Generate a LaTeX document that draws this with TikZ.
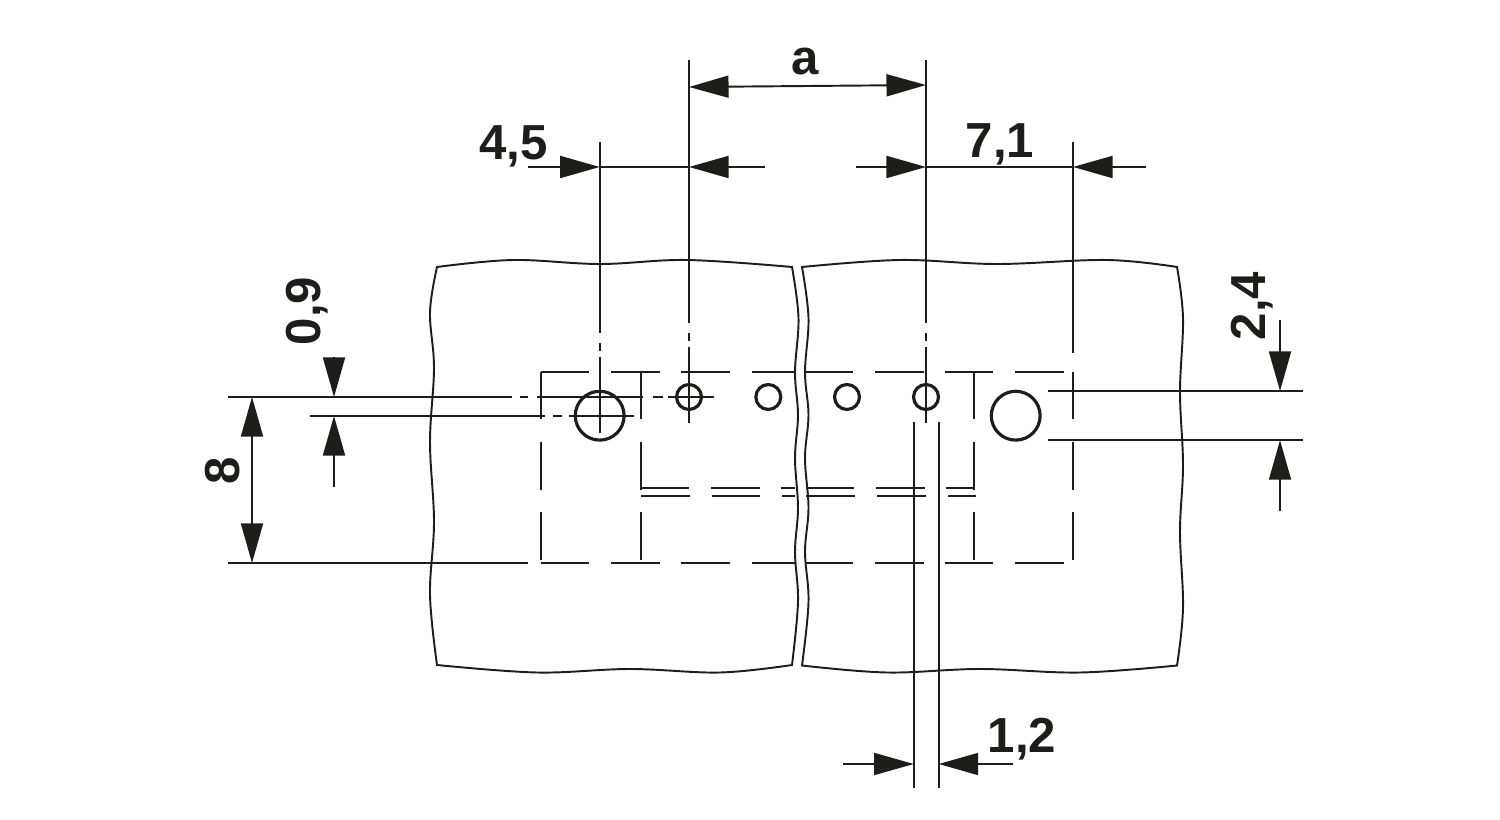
\documentclass[tikz,border=0pt]{standalone}
\usepackage{fontspec}
\setmainfont{Liberation Sans}
\usetikzlibrary{arrows.meta}
\definecolor{ink}{HTML}{1D1D1B}
\tikzset{
    thinline/.style={draw=ink, line width=1.2pt},
    edgeline/.style={draw=ink, line width=1.1pt, line join=miter},
    dimtip/.tip={Triangle[length=22.5pt, width=12.5pt]},
    dimarrow/.style={draw=ink, line width=1.1pt, -dimtip},
    dimlabel/.style={text=ink, font=\fontsize{28}{28}\selectfont\bfseries, inner sep=0pt},
    smallhole/.style={circle, draw=ink, line width=1.8pt, minimum size=14.2pt, inner sep=0pt},
    bighole/.style={circle, draw=ink, line width=1.8pt, minimum size=27.8pt, inner sep=0pt}
}
\begin{document}
\begin{tikzpicture}[x=0.02cm, y=-0.02cm]
            \useasboundingbox (0,0) rectangle (1500,820);

            % left panel
            \draw[edgeline] plot[smooth, tension=0.6] coordinates {(437,267) (513,260) (600,264) (687,260) (792,267)}
              -- plot[smooth, tension=0.6] coordinates {(792,267) (798.5,318) (795,372) (798,415) (795,458) (798,508) (795,552) (798,602) (792,665)}
              -- plot[smooth, tension=0.6] coordinates {(792,665) (720,672.5) (630,669) (537,672.5) (437,665)}
              -- plot[smooth, tension=0.6] coordinates {(437,665) (430,595) (434,522) (430,442) (434,368) (430,312) (437,267)} -- cycle;
            % right panel
            \draw[edgeline] plot[smooth, tension=0.6] coordinates {(802,267) (900,260) (997,264) (1107,260) (1177,267)}
              -- plot[smooth, tension=0.6] coordinates {(1177,267) (1183,318) (1180,392) (1183,465) (1180,532) (1183,608) (1177,665.5)}
              -- plot[smooth, tension=0.6] coordinates {(1177,665.5) (1080,672.5) (980,669) (887,672.5) (802,665.5)}
              -- plot[smooth, tension=0.6] coordinates {(802,665.5) (808.5,602) (805,552) (808.5,508) (805,458) (808.5,415) (805,372) (808.5,318) (802,267)} -- cycle;

            % holes
            \node[bighole] (bigl) at (599.7,415.7) {};
            \node[bighole] (bigr) at (1015.7,415.7) {};
            \node[smallhole] (hole1) at (689,397) {};
            \node[smallhole] (hole2) at (768.3,397) {};
            \node[smallhole] (hole3) at (847,397) {};
            \node[smallhole] (hole4) at (926,397) {};

            % hidden outline, horizontal dashes
            \foreach \ya in {372, 563}
              \foreach \xa/\xb in {541/589, 611/660, 681/730, 752/795, 805/853, 875/924, 945/993, 1015/1064}
                \draw[thinline] (\xa,\ya) -- (\xb,\ya);
            \draw[thinline] (228,563) -- (528,563);
            \foreach \xa/\xb in {641/689, 711/760, 781/795, 806/854, 876/925, 946/974}
                \draw[thinline] (\xa,488.2) -- (\xb,488.2);
            \foreach \xa/\xb in {641/690, 712/760, 782/795, 806/855, 877/926, 948/976}
                \draw[thinline] (\xa,496.2) -- (\xb,496.2);

            % hidden outline, vertical dashes
            \foreach \xa in {541.2, 641.2, 974, 1073}
              \foreach \ya/\yb in {372/419, 442/490, 512/560}
                \draw[thinline] (\xa,\ya) -- (\xa,\yb);

            % centre lines
            \draw[thinline] (228,397) -- (512,397);
            \foreach \xa/\xb in {520/528, 537/643, 653/663, 668/714}
                \draw[thinline] (\xa,397) -- (\xb,397);
            \draw[thinline] (310,416) -- (545,416);
            \foreach \xa/\xb in {553/562, 569/634}
                \draw[thinline] (\xa,416) -- (\xb,416);
            \draw[thinline] (599.7,142) -- (599.7,333);
            \foreach \ya/\yb in {343/351, 357/433}
                \draw[thinline] (599.7,\ya) -- (599.7,\yb);
            \foreach \xa in {689, 926} {
                \draw[thinline] (\xa,60) -- (\xa,323);
                \draw[thinline] (\xa,333) -- (\xa,341);
                \draw[thinline] (\xa,347) -- (\xa,423);
            }
            \draw[thinline] (1073,142) -- (1073,353);

            % extension lines
            \draw[thinline] (1048,391) -- (1303,391);
            \draw[thinline] (1048,440.2) -- (1303,440.2);
            \draw[thinline] (913.7,422) -- (913.7,788);
            \draw[thinline] (938.7,422) -- (938.7,788);

            % dimension ends
            \coordinate (atipl) at (689,87);
            \coordinate (atipr) at (926,85);
            \coordinate (pitchl) at (528,167);
            \coordinate (pitchla) at (599.7,167);
            \coordinate (pitchlb) at (689,167);
            \coordinate (pitchr) at (765,167);
            \coordinate (edgel) at (856,167);
            \coordinate (edgela) at (926,167);
            \coordinate (edgelb) at (1073,167);
            \coordinate (edger) at (1146,167);
            \coordinate (h8a) at (252,397);
            \coordinate (h8b) at (252,563);
            \coordinate (n9top) at (334,357);
            \coordinate (n9a) at (334,397);
            \coordinate (n9b) at (334,416);
            \coordinate (n9bot) at (334,487);
            \coordinate (d24top) at (1280,320);
            \coordinate (d24a) at (1280,391);
            \coordinate (d24b) at (1280,440.2);
            \coordinate (d24bot) at (1280,511);
            \coordinate (w12l) at (843,764);
            \coordinate (w12a) at (913.7,764);
            \coordinate (w12b) at (938.7,764);
            \coordinate (w12r) at (1013,764);

            \draw[dimarrow, dimtip-dimtip] (atipl) -- (atipr);
            \draw[dimarrow] (pitchl) -- (pitchla);
            \draw[thinline] (pitchla) -- (pitchlb);
            \draw[dimarrow] (pitchr) -- (pitchlb);
            \draw[dimarrow] (edgel) -- (edgela);
            \draw[thinline] (edgela) -- (edgelb);
            \draw[dimarrow] (edger) -- (edgelb);
            \draw[dimarrow, dimtip-dimtip] (h8a) -- (h8b);
            \draw[dimarrow] (n9top) -- (n9a);
            \draw[dimarrow] (n9bot) -- (n9b);
            \draw[dimarrow] (d24top) -- (d24a);
            \draw[dimarrow] (d24bot) -- (d24b);
            \draw[dimarrow] (w12l) -- (w12a);
            \draw[dimarrow] (w12r) -- (w12b);

            % labels
            \node[dimlabel] (la) at (805,62) {a};
            \node[dimlabel] (l45) at (513.5,146) {4,5};
            \node[dimlabel] (l71) at (1000,144) {7,1};
            \node[dimlabel] (l12) at (1022,739) {1,2};
            \node[dimlabel, rotate=90] (l8) at (223,471) {8};
            \node[dimlabel, rotate=90] (l09) at (307,311) {0,9};
            \node[dimlabel, rotate=90] (l24) at (1252,306) {2,4};
        \end{tikzpicture}
\end{document}
